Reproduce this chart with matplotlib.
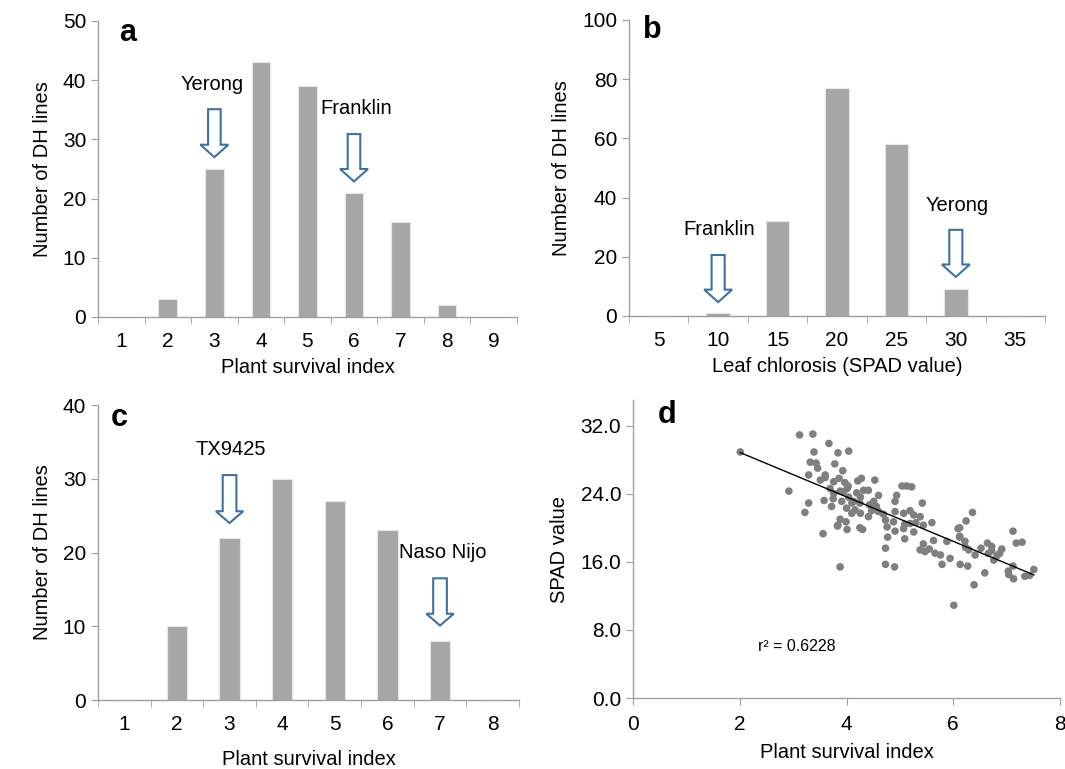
import matplotlib
matplotlib.use('Agg')
import matplotlib.pyplot as plt
from matplotlib.patches import FancyArrow
import numpy as np

plt.rcParams['font.family'] = ['Liberation Sans', 'DejaVu Sans']
plt.rcParams['font.size'] = 14

# panel a: plant survival index (Yerong x Franklin)
psi_a = [1, 2, 3, 4, 5, 6, 7, 8, 9]
count_a = [0, 3, 25, 43, 39, 21, 16, 2, 0]

# panel b: leaf chlorosis (SPAD)
spad_b = [5, 10, 15, 20, 25, 30, 35]
count_b = [0, 1, 32, 77, 58, 9, 0]

# panel c: plant survival index (TX9425 x Naso Nijo)
psi_c = [1, 2, 3, 4, 5, 6, 7, 8]
count_c = [0, 10, 22, 30, 27, 23, 8, 0]

# panel d: survival index vs SPAD value
psi_d = [2.01, 3.12, 3.37, 3.67, 3.39, 3.84, 4.04, 3.32, 3.43, 3.78, 3.46, 3.29,
         3.93, 3.51, 3.60, 3.76, 3.86, 4.21, 4.28, 4.53, 2.92, 3.69, 4.01, 3.76,
         3.94, 4.04, 4.32, 4.41, 4.26, 4.60, 4.94, 5.04, 5.22, 5.13, 3.58, 3.29,
         3.72, 3.91, 4.10, 4.51, 4.91, 5.42, 3.22, 4.10, 4.26, 4.41, 4.60, 4.91,
         5.07, 5.26, 5.38, 6.36, 3.88, 4.73, 4.88, 5.19, 5.44, 5.60, 6.24, 3.84,
         4.01, 4.30, 4.76, 5.07, 5.26, 6.09, 7.12, 3.56, 4.77, 5.09, 5.63, 5.88,
         6.12, 7.18, 7.29, 5.44, 4.73, 5.38, 5.47, 6.23, 6.29, 6.52, 6.64, 6.72,
         6.91, 5.66, 5.76, 6.41, 6.66, 6.82, 5.94, 6.76, 4.73, 4.90, 5.79, 6.13,
         6.27, 7.12, 7.51, 3.88, 6.59, 7.04, 7.13, 7.34, 7.43, 6.39, 6.01,
         4.19, 4.25, 4.43, 4.56, 4.47, 4.69, 5.19, 5.09, 5.30, 4.91, 5.55,
         3.60, 3.88, 3.75, 3.97, 4.03, 4.13, 4.16, 4.00, 3.99, 4.25, 3.83,
         6.12, 6.12, 6.22, 6.72, 7.03, 6.87]
val_d = [28.9, 30.9, 31.0, 29.9, 28.9, 28.8, 29.0, 27.7, 27.6, 27.5, 27.0, 26.2,
         26.7, 25.6, 25.9, 25.4, 25.8, 25.5, 25.8, 25.6, 24.3, 24.6, 24.6, 24.0,
         24.2, 23.6, 24.4, 24.4, 23.6, 23.8, 23.8, 24.9, 24.8, 24.9, 23.2, 22.9,
         22.5, 23.1, 22.9, 23.1, 23.1, 22.9, 21.8, 21.7, 21.7, 21.3, 21.9, 21.9,
         21.7, 21.5, 21.3, 21.8, 21.0, 20.9, 20.7, 20.5, 20.3, 20.6, 20.8, 20.3,
         19.8, 19.8, 20.1, 19.9, 19.5, 19.9, 19.6, 19.3, 18.9, 18.7, 18.5, 18.4,
         18.9, 18.2, 18.3, 18.1, 17.6, 17.4, 17.2, 17.7, 17.4, 17.6, 18.2, 17.8,
         17.5, 17.0, 16.8, 16.8, 17.0, 16.7, 16.4, 16.2, 15.7, 15.4, 15.7, 15.7,
         15.5, 15.5, 15.1, 15.4, 14.7, 14.5, 14.0, 14.3, 14.4, 13.3, 10.9,
         24.1, 22.9, 22.7, 22.5, 22.0, 21.6, 22.0, 20.4, 20.6, 19.6, 17.5,
         26.2, 24.3, 23.4, 25.3, 24.9, 23.1, 22.1, 22.3, 20.7, 20.0, 20.2,
         20.0, 19.0, 18.4, 17.3, 14.9, 17.0]

bar_color = '#A6A6A6'
axis_color = '#A0A0A0'
arrow_color = '#41719C'
TICK_FS = 15
LABEL_FS = 14.5


def style_axis(ax):
    for side in ['top', 'right']:
        ax.spines[side].set_visible(False)
    for side in ['left', 'bottom']:
        ax.spines[side].set_color(axis_color)
        ax.spines[side].set_linewidth(1.0)
    ax.tick_params(axis='both', which='both', color=axis_color, direction='out',
                   labelsize=TICK_FS, length=5)


def bar_panel(ax, cats, counts, ymax, ystep, width):
    x = np.arange(len(cats))
    ax.bar(x, counts, width=width, color=bar_color, edgecolor='#E6E6E6', linewidth=0.8)
    ax.set_xlim(-0.5, len(cats) - 0.5)
    ax.set_ylim(0, ymax)
    ax.set_yticks(np.arange(0, ymax + 1, ystep))
    ax.set_xticks(x)
    ax.set_xticklabels([str(c) for c in cats])
    ax.set_xticks(np.arange(-0.5, len(cats)), minor=True)
    style_axis(ax)
    ax.tick_params(axis='x', which='major', length=0, pad=11)
    ax.tick_params(axis='x', which='minor', length=5)
    ax.set_ylabel('Number of DH lines', fontsize=LABEL_FS, labelpad=8)
    return x


def hollow_arrow(ax, x, top, tip, shaft, head, head_len):
    ax.add_patch(FancyArrow(x, top, 0, tip - top, width=shaft, head_width=head,
                            head_length=head_len, length_includes_head=True,
                            fc='white', ec=arrow_color, lw=1.5, zorder=3))


fig = plt.figure(figsize=(10.65, 7.69), dpi=100)

# a
ax_a = fig.add_axes([0.092, 0.5878, 0.3934, 0.3849])
bar_panel(ax_a, psi_a, count_a, 50, 10, 0.4)
ax_a.set_xlabel('Plant survival index', fontsize=LABEL_FS, labelpad=5)
hollow_arrow(ax_a, 2, 35.1, 27.0, 0.27, 0.6, 2.1)
hollow_arrow(ax_a, 5, 30.9, 22.9, 0.27, 0.6, 2.1)
ax_a.text(1.96, 39.2, 'Yerong', ha='center', va='center', fontsize=LABEL_FS)
ax_a.text(5.05, 35.3, 'Franklin', ha='center', va='center', fontsize=LABEL_FS)
ax_a.text(0.14, 48, 'a', fontsize=22, fontweight='bold', ha='center', va='center')

# b
ax_b = fig.add_axes([0.5906, 0.5891, 0.3906, 0.3849])
bar_panel(ax_b, spad_b, count_b, 100, 20, 0.4)
ax_b.set_xlabel('Leaf chlorosis (SPAD value)', fontsize=LABEL_FS, labelpad=5)
hollow_arrow(ax_b, 1, 20.6, 4.7, 0.22, 0.47, 4.2)
hollow_arrow(ax_b, 5, 29.1, 13.2, 0.22, 0.47, 4.2)
ax_b.text(1.02, 29.1, 'Franklin', ha='center', va='center', fontsize=LABEL_FS)
ax_b.text(5.02, 37.2, 'Yerong', ha='center', va='center', fontsize=LABEL_FS)
ax_b.text(-0.1, 96.6, 'b', fontsize=22, fontweight='bold', ha='center', va='center')

# c
ax_c = fig.add_axes([0.092, 0.0897, 0.3953, 0.3836])
bar_panel(ax_c, psi_c, count_c, 40, 10, 0.39)
ax_c.set_xlabel('Plant survival index', fontsize=LABEL_FS, labelpad=11)
hollow_arrow(ax_c, 2, 30.5, 24.0, 0.26, 0.52, 1.6)
hollow_arrow(ax_c, 6, 16.5, 10.1, 0.26, 0.52, 1.6)
ax_c.text(2.02, 34.0, 'TX9425', ha='center', va='center', fontsize=LABEL_FS)
ax_c.text(6.06, 20.0, 'Naso Nijo', ha='center', va='center', fontsize=LABEL_FS)
ax_c.text(-0.1, 38.2, 'c', fontsize=22, fontweight='bold', ha='center', va='center')

# d
ax_d = fig.add_axes([0.5944, 0.0923, 0.4009, 0.3875])
ax_d.scatter(psi_d, val_d, s=30, color='#7F7F7F', edgecolors='none', zorder=2)
slope, icpt = np.polyfit(psi_d, val_d, 1)
xs = np.array([min(psi_d), max(psi_d)])
ax_d.plot(xs, slope * xs + icpt, color='black', lw=1.0, zorder=3)
ax_d.set_xlim(0, 8)
ax_d.set_ylim(0, 35)
ax_d.set_xticks([0, 2, 4, 6, 8])
ax_d.set_yticks([0, 8, 16, 24, 32])
ax_d.set_yticklabels(['%.1f' % v for v in [0, 8, 16, 24, 32]])
style_axis(ax_d)
ax_d.tick_params(axis='x', pad=7)
ax_d.set_xlabel('Plant survival index', fontsize=LABEL_FS, labelpad=7)
ax_d.set_ylabel('SPAD value', fontsize=LABEL_FS, labelpad=8)
ax_d.text(2.34, 6.0, 'r² = 0.6228', fontsize=11.5, ha='left', va='center')
ax_d.text(0.64, 33.3, 'd', fontsize=22, fontweight='bold', ha='center', va='center')

fig.savefig('out.png', dpi=100)
